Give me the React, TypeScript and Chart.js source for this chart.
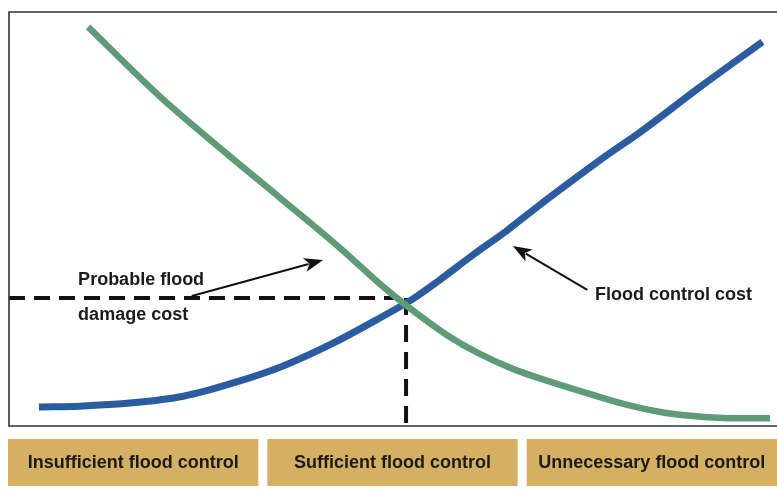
import React, { useEffect, useRef } from "react";
import { Chart, registerables } from "chart.js";

Chart.register(...registerables);

// Flood control level (0-100) vs cost (0-100)
const controlCostX = [3.9, 9.2, 16.1, 22.7, 29.2, 35.7, 42.2, 48.3, 52.6, 56.1, 60.4, 64.9, 69.1, 73.4, 77.9, 82.2, 90.0, 98.1];
const controlCostY = [4.6, 4.8, 5.6, 7.2, 10.4, 14.5, 20.0, 26.1, 30.7, 35.3, 41.3, 47.3, 53.4, 59.4, 65.5, 71.0, 81.9, 92.8];

const damageCostX = [10.3, 19.7, 27.5, 35.3, 43.1, 48.3, 51.8, 57.0, 61.3, 65.6, 70.1, 74.3, 80.5, 84.8, 89.1, 93.9, 99.1];
const damageCostY = [96.4, 79.5, 67.1, 55.1, 43.0, 34.3, 29.0, 22.0, 17.4, 13.8, 10.9, 8.5, 5.1, 3.4, 2.4, 1.9, 1.9];

const optimumX = 51.7;
const optimumY = 30.9;

const zoneLabels = ["Insufficient flood control", "Sufficient flood control", "Unnecessary flood control"];

// annotation labels: [text, x, y]
const curveLabels: [string, number, number][] = [
  ["Probable flood", 9.0, 35.3],
  ["damage cost", 9.0, 26.8],
  ["Flood control cost", 76.3, 31.6],
];
// arrows: [fromX, fromY, toX, toY]
const arrows: [number, number, number, number][] = [
  [23.8, 31.4, 40.9, 40.1],
  [75.3, 32.9, 65.6, 43.5],
];

const GREEN = "#5e9b76";
const BLUE = "#2b5ca0";
const BOX = "#d5b063";
const FONT = "bold 18px 'Liberation Sans', Arial, sans-serif";

const toPts = (xs: number[], ys: number[]) => xs.map((x, i) => ({ x, y: ys[i] }));

const decor = {
  id: "decor",
  afterDraw(chart: any) {
    const { ctx, chartArea, scales } = chart;
    const xs = scales.x;
    const ys = scales.y;
    ctx.save();
    // frame (left, top, bottom)
    ctx.strokeStyle = "#333";
    ctx.lineWidth = 1.6;
    ctx.beginPath();
    ctx.moveTo(chartArea.right, chartArea.top);
    ctx.lineTo(chartArea.left, chartArea.top);
    ctx.lineTo(chartArea.left, chartArea.bottom);
    ctx.lineTo(chartArea.right, chartArea.bottom);
    ctx.stroke();

    // labels
    ctx.fillStyle = "#1b1b1b";
    ctx.font = FONT;
    ctx.textAlign = "left";
    ctx.textBaseline = "middle";
    curveLabels.forEach(([t, x, y]) => {
      ctx.fillText(t, xs.getPixelForValue(x), ys.getPixelForValue(y));
    });

    // arrows
    ctx.strokeStyle = "#111";
    ctx.fillStyle = "#111";
    ctx.lineWidth = 2;
    arrows.forEach(([x1, y1, x2, y2]) => {
      const px1 = xs.getPixelForValue(x1);
      const py1 = ys.getPixelForValue(y1);
      const px2 = xs.getPixelForValue(x2);
      const py2 = ys.getPixelForValue(y2);
      const ang = Math.atan2(py2 - py1, px2 - px1);
      const hl = 19;
      const hw = 7;
      const bx = px2 - hl * Math.cos(ang);
      const by = py2 - hl * Math.sin(ang);
      ctx.beginPath();
      ctx.moveTo(px1, py1);
      ctx.lineTo(bx + 4 * Math.cos(ang), by + 4 * Math.sin(ang));
      ctx.stroke();
      ctx.beginPath();
      ctx.moveTo(px2, py2);
      ctx.lineTo(bx + hw * Math.sin(ang), by - hw * Math.cos(ang));
      ctx.lineTo(bx + 5 * Math.cos(ang), by + 5 * Math.sin(ang));
      ctx.lineTo(bx - hw * Math.sin(ang), by + hw * Math.cos(ang));
      ctx.closePath();
      ctx.fill();
    });

    // zone boxes below the chart
    const w = chart.width;
    const gap = 9;
    const left = chartArea.left - 1;
    const bw = (w - left - 2 * gap) / 3;
    const top = chartArea.bottom + 13;
    const bh = 47;
    zoneLabels.forEach((t, i) => {
      const x0 = left + i * (bw + gap);
      ctx.fillStyle = BOX;
      ctx.fillRect(x0, top, bw, bh);
      ctx.fillStyle = "#1b1b1b";
      ctx.font = FONT;
      ctx.textAlign = "center";
      ctx.textBaseline = "middle";
      ctx.fillText(t, x0 + bw / 2, top + bh / 2 + 1);
    });
    ctx.restore();
  },
};

export default function App() {
  const ref = useRef<HTMLCanvasElement>(null);
  useEffect(() => {
    if (!ref.current) return;
    const chart = new Chart(ref.current, {
      type: "line",
      data: {
        datasets: [
          {
            label: "Probable flood damage cost",
            data: toPts(damageCostX, damageCostY),
            borderColor: GREEN,
            borderWidth: 6.5,
            pointRadius: 0,
            cubicInterpolationMode: "monotone",
            fill: false,
          },
          {
            label: "Flood control cost",
            data: toPts(controlCostX, controlCostY),
            borderColor: BLUE,
            borderWidth: 7,
            pointRadius: 0,
            cubicInterpolationMode: "monotone",
            fill: false,
          },
          {
            label: "optimum-h",
            data: [
              { x: 0, y: optimumY },
              { x: optimumX, y: optimumY },
            ],
            borderColor: "#111",
            borderWidth: 4,
            borderDash: [16, 9],
            pointRadius: 0,
            tension: 0,
            clip: 10,
          } as any,
          {
            label: "optimum-v",
            data: [
              { x: optimumX, y: optimumY },
              { x: optimumX, y: 0 },
            ],
            borderColor: "#111",
            borderWidth: 4,
            borderDash: [17, 10],
            pointRadius: 0,
            tension: 0,
            clip: 10,
          } as any,
        ],
      },
      options: {
        animation: false,
        responsive: false,
        maintainAspectRatio: false,
        layout: { padding: { left: 9, top: 12, right: 0, bottom: 63 } },
        plugins: { legend: { display: false }, tooltip: { enabled: false } },
        scales: {
          x: { type: "linear", min: 0, max: 100, display: false },
          y: { type: "linear", min: 0, max: 100, display: false },
        },
      },
      plugins: [decor],
    });
    return () => chart.destroy();
  }, []);
  return (
    <div style={{ position: "fixed", left: 0, top: 0, width: 777, height: 489, background: "#fff" }}>
      <canvas ref={ref} width={777} height={489} style={{ width: 777, height: 489, display: "block" }} />
    </div>
  );
}
